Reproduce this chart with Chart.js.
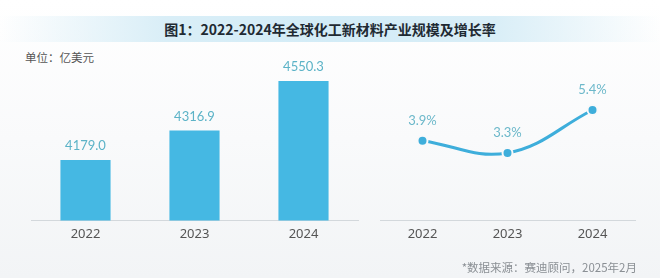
<!DOCTYPE html>
<html>
<head>
<meta charset="utf-8">
<script src="https://cdn.jsdelivr.net/npm/chart.js@4.4.1/dist/chart.umd.min.js"></script>
<style>
  html, body { margin: 0; padding: 0; }
  body {
    width: 660px; height: 278px; position: relative; overflow: hidden;
    background: linear-gradient(180deg, #ffffff 0%, #f9fafb 50%, #f2f4f6 100%);
    font-family: "Noto Sans CJK SC", "Noto Sans", sans-serif;
  }
  #title {
    position: absolute; left: 0; top: 16px; width: 660px; height: 26px;
    background: linear-gradient(90deg, rgba(255,255,255,0) 0%, #d9eef7 25%, #d3ecf7 50%, #d9eef7 75%, rgba(255,255,255,0) 100%);
    text-align: center; line-height: 26px; font-size: 14px; font-weight: bold; color: #1f2a33;
  }
  #unit { position: absolute; left: 25px; top: 49px; font-size: 11.5px; color: #555; }
  #source { position: absolute; right: 23px; top: 259px; font-size: 11.5px; color: #8a8f94; }
  #barWrap { position: absolute; left: 0; top: 0; width: 360px; height: 278px; }
  #lineWrap { position: absolute; left: 360px; top: 0; width: 300px; height: 278px; }
</style>
</head>
<body>
<div id="title">图1：2022-2024年全球化工新材料产业规模及增长率</div>
<div id="unit">单位：亿美元</div>
<div id="barWrap"><canvas id="bar-chart"></canvas></div>
<div id="lineWrap"><canvas id="line-chart"></canvas></div>
<div id="source">*数据来源：赛迪顾问，2025年2月</div>
<script>
const years = ['2022', '2023', '2024'];
const scaleValues = [4179.0, 4316.9, 4550.3];   // 亿美元
const growthRates = [3.9, 3.3, 5.4];            // %

// Draw value labels above bars / points
const valueLabels = {
  id: 'valueLabels',
  afterDatasetsDraw(chart, args, opts) {
    const ctx = chart.ctx;
    const ds = chart.data.datasets[0];
    chart.getDatasetMeta(0).data.forEach((el, i) => {
      ctx.save();
      ctx.font = '13px Lato, "Noto Sans", sans-serif';
      ctx.fillStyle = opts.color;
      ctx.textAlign = 'center';
      ctx.textBaseline = 'middle';
      ctx.fillText(opts.format(ds.data[i]), el.x, el.y - opts.offset);
      ctx.restore();
    });
  }
};

function makeXAxis() {
  return {
    offset: true,
    grid: { display: false, drawTicks: false },
    border: { display: true, color: '#d3d8dc', width: 1 },
    ticks: { color: '#555', padding: 6, font: { size: 13, family: '"Noto Sans", sans-serif' } }
  };
}

new Chart(document.getElementById('bar-chart').getContext('2d'), {
  type: 'bar',
  data: {
    labels: years,
    datasets: [{
      label: '产业规模',
      data: scaleValues,
      backgroundColor: '#45b8e3',
      barPercentage: 0.46,
      categoryPercentage: 1
    }]
  },
  options: {
    responsive: true,
    maintainAspectRatio: false,
    animation: false,
    layout: { padding: { left: 31, right: 2, top: 65, bottom: 30 } },
    scales: {
      x: makeXAxis(),
      y: { display: false, min: 3895, max: 4625 }
    },
    plugins: {
      legend: { display: false },
      tooltip: { enabled: false },
      valueLabels: { color: '#5cb3c7', offset: 14, format: v => v.toFixed(1) }
    }
  },
  plugins: [valueLabels]
});

new Chart(document.getElementById('line-chart').getContext('2d'), {
  type: 'line',
  data: {
    labels: years,
    datasets: [{
      label: '增长率',
      data: growthRates,
      borderColor: '#3eaedb',
      borderWidth: 3,
      tension: 0.4,
      pointRadius: 5,
      pointBackgroundColor: '#3eaedb',
      pointBorderColor: '#f8f9fa',
      pointBorderWidth: 2
    }]
  },
  options: {
    responsive: true,
    maintainAspectRatio: false,
    animation: false,
    layout: { padding: { left: 20, right: 25, top: 65, bottom: 30 } },
    scales: {
      x: makeXAxis(),
      y: { display: false, min: 0, max: 7.6 }
    },
    plugins: {
      legend: { display: false },
      tooltip: { enabled: false },
      valueLabels: { color: '#6cb8ca', offset: 20, format: v => v.toFixed(1) + '%' }
    }
  },
  plugins: [valueLabels]
});
</script>
</body>
</html>
